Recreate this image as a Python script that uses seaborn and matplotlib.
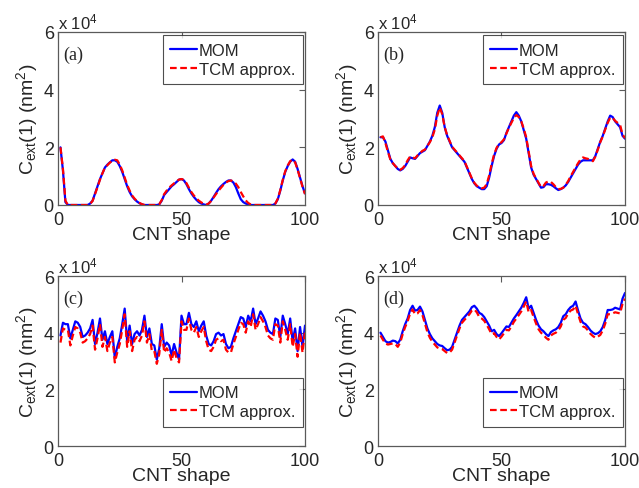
import numpy as np
import pandas as pd
import matplotlib
matplotlib.use("Agg")
import matplotlib.pyplot as plt
import seaborn as sns

# Extinction cross-section C_ext(1) per CNT shape, in units of 1e4 nm^2
mom_a = [2.0, 1.2, 0.1, 0.0, 0, 0, 0, 0, 0, 0,
         0, 0, 0.05, 0.15, 0.4, 0.65, 0.9, 1.1, 1.3, 1.4,
         1.48, 1.55, 1.55, 1.5, 1.35, 1.15, 0.9, 0.65, 0.45, 0.3,
         0.2, 0.12, 0.06, 0.02, 0, 0, 0, 0, 0, 0,
         0.02, 0.15, 0.35, 0.45, 0.55, 0.65, 0.72, 0.8, 0.88, 0.9,
         0.85, 0.72, 0.55, 0.4, 0.28, 0.18, 0.1, 0.05, 0.02, 0.0,
         0.05, 0.15, 0.28, 0.42, 0.55, 0.65, 0.73, 0.8, 0.85, 0.85,
         0.78, 0.62, 0.4, 0.2, 0.1, 0.05, 0.02, 0, 0, 0,
         0, 0, 0, 0, 0, 0, 0, 0.05, 0.2, 0.5,
         0.85, 1.15, 1.35, 1.5, 1.58, 1.5, 1.25, 0.95, 0.65, 0.4]
tcm_a = [2.0, 1.25, 0.15, 0.0, 0, 0, 0, 0, 0, 0,
         0, 0, 0.04, 0.14, 0.38, 0.62, 0.88, 1.1, 1.3, 1.38,
         1.47, 1.53, 1.57, 1.55, 1.4, 1.2, 0.95, 0.7, 0.5, 0.33,
         0.22, 0.13, 0.07, 0.03, 0, 0, 0, 0, 0, 0,
         0.03, 0.17, 0.38, 0.5, 0.6, 0.68, 0.75, 0.82, 0.88, 0.9,
         0.87, 0.76, 0.6, 0.45, 0.33, 0.23, 0.15, 0.09, 0.04, 0.01,
         0.05, 0.14, 0.26, 0.38, 0.5, 0.6, 0.7, 0.78, 0.83, 0.85,
         0.82, 0.74, 0.62, 0.45, 0.3, 0.16, 0.07, 0.02, 0, 0,
         0, 0, 0, 0, 0, 0, 0, 0.05, 0.22, 0.52,
         0.87, 1.17, 1.37, 1.52, 1.57, 1.48, 1.23, 0.93, 0.63, 0.38]

mom_b = [2.35, 2.35, 2.2, 1.9, 1.6, 1.45, 1.35, 1.25, 1.2, 1.25,
         1.35, 1.5, 1.65, 1.62, 1.6, 1.7, 1.8, 1.85, 1.9, 2.05,
         2.2, 2.4, 2.7, 3.2, 3.45, 3.2, 2.7, 2.4, 2.2, 2.0,
         1.9, 1.8, 1.7, 1.6, 1.5, 1.3, 1.1, 0.9, 0.75, 0.65,
         0.6, 0.55, 0.55, 0.65, 0.95, 1.35, 1.7, 1.95, 2.1, 2.15,
         2.25, 2.5, 2.7, 2.9, 3.1, 3.22, 3.1, 2.9, 2.6, 2.3,
         1.8, 1.3, 1.05, 0.9, 0.75, 0.6, 0.62, 0.72, 0.72, 0.7,
         0.65, 0.58, 0.52, 0.55, 0.6, 0.68, 0.8, 0.95, 1.1, 1.25,
         1.4, 1.5, 1.55, 1.55, 1.55, 1.55, 1.55, 1.7, 1.95, 2.2,
         2.4, 2.65, 2.9, 3.1, 3.05, 2.9, 2.8, 2.7, 2.4, 2.3]
tcm_b = [2.35, 2.38, 2.15, 1.85, 1.58, 1.45, 1.35, 1.27, 1.22, 1.28,
         1.38, 1.55, 1.68, 1.65, 1.62, 1.72, 1.8, 1.88, 1.92, 2.05,
         2.18, 2.35, 2.62, 3.1, 3.38, 3.15, 2.7, 2.42, 2.22, 2.02,
         1.92, 1.82, 1.72, 1.62, 1.52, 1.32, 1.12, 0.92, 0.77, 0.67,
         0.62, 0.58, 0.6, 0.72, 1.02, 1.42, 1.75, 1.98, 2.12, 2.18,
         2.28, 2.48, 2.68, 2.85, 3.02, 3.12, 3.05, 2.9, 2.65, 2.35,
         1.85, 1.35, 1.08, 0.92, 0.77, 0.62, 0.66, 0.78, 0.82, 0.8,
         0.72, 0.62, 0.55, 0.56, 0.6, 0.7, 0.83, 1.0, 1.15, 1.3,
         1.45, 1.58, 1.65, 1.62, 1.6, 1.55, 1.52, 1.68, 1.92, 2.18,
         2.38, 2.62, 2.85, 3.03, 3.02, 2.92, 2.85, 2.78, 2.45, 2.32]

mom_c = [3.9, 4.35, 4.3, 4.3, 3.8, 4.1, 4.4, 4.35, 4.2, 3.85,
         3.9, 4.0, 4.15, 4.45, 3.6, 4.0, 4.5, 3.75, 4.05, 3.6,
         3.85, 4.05, 3.1, 3.5, 3.8, 4.3, 4.85, 3.7, 4.25, 3.6,
         3.95, 4.05, 3.9, 4.1, 4.6, 3.85, 4.15, 3.6, 3.55, 3.05,
         3.45, 4.3, 3.5, 3.65, 3.55, 3.2, 3.6, 3.3, 3.05, 4.6,
         4.3, 4.3, 4.7, 4.3, 4.2, 4.4, 4.05, 4.25, 4.4, 3.9,
         3.6, 3.55, 3.7, 3.95, 4.0, 3.9, 3.95, 3.6, 3.45, 3.5,
         3.8, 4.05, 4.3, 4.55, 4.5, 4.2, 4.6, 4.4, 4.85, 4.3,
         4.5, 4.75, 4.6, 4.4, 4.1, 4.0, 3.95, 4.5, 4.45, 3.85,
         4.6, 4.3, 3.95, 4.5, 3.7, 4.15, 3.35, 4.2, 3.5, 4.25]
tcm_c = [3.65, 4.15, 4.1, 4.1, 3.55, 3.9, 4.2, 4.15, 4.0, 3.65,
         3.7, 3.8, 3.95, 4.25, 3.4, 3.8, 4.3, 3.5, 3.85, 3.35,
         3.65, 3.85, 2.95, 3.3, 3.6, 4.1, 4.65, 3.5, 4.05, 3.35,
         3.75, 3.85, 3.7, 3.9, 4.4, 3.65, 3.95, 3.35, 3.35, 2.9,
         3.25, 4.1, 3.3, 3.45, 3.3, 3.0, 3.4, 3.1, 2.95, 4.4,
         4.1, 4.1, 4.5, 4.1, 4.0, 4.2, 3.85, 4.05, 4.2, 3.7,
         3.4, 3.35, 3.5, 3.75, 3.8, 3.7, 3.75, 3.4, 3.3, 3.3,
         3.6, 3.85, 4.1, 4.35, 4.3, 4.0, 4.4, 4.2, 4.65, 4.1,
         4.3, 4.55, 4.4, 4.2, 3.9, 3.8, 3.75, 4.3, 4.25, 3.65,
         4.4, 4.1, 3.75, 4.3, 3.5, 3.95, 3.15, 4.0, 3.3, 4.05]

mom_d = [4.0, 3.85, 3.7, 3.65, 3.67, 3.72, 3.7, 3.62, 3.75, 4.05,
         4.3, 4.5, 4.8, 4.95, 4.78, 4.8, 4.92, 4.75, 4.45, 4.15,
         3.95, 3.8, 3.7, 3.6, 3.55, 3.53, 3.45, 3.38, 3.4, 3.5,
         3.75, 4.0, 4.25, 4.45, 4.55, 4.65, 4.75, 4.9, 4.95, 4.85,
         4.7, 4.65, 4.55, 4.4, 4.25, 4.05, 4.1, 3.95, 3.88, 3.98,
         4.1, 4.22, 4.2, 4.35, 4.5, 4.62, 4.75, 4.88, 5.05, 5.25,
         4.85, 4.95, 4.7, 4.45, 4.25, 4.12, 4.05, 3.95, 3.88, 4.02,
         4.08, 4.12, 4.2, 4.35, 4.58, 4.65, 4.8, 4.9, 4.95, 5.1,
         4.78, 4.5, 4.35, 4.3, 4.2, 4.08, 4.0, 3.95, 3.98, 4.05,
         4.2, 4.45, 4.8, 4.8, 4.82, 4.88, 4.85, 4.82, 5.2, 5.4]
tcm_d = [3.9, 3.75, 3.62, 3.58, 3.6, 3.62, 3.6, 3.5, 3.65, 3.95,
         4.2, 4.4, 4.68, 4.82, 4.65, 4.68, 4.8, 4.62, 4.32, 4.02,
         3.82, 3.68, 3.58, 3.48, 3.44, 3.42, 3.35, 3.28, 3.3, 3.4,
         3.65, 3.9, 4.15, 4.35, 4.45, 4.55, 4.65, 4.78, 4.82, 4.72,
         4.55, 4.5, 4.42, 4.28, 4.12, 3.95, 3.98, 3.85, 3.76, 3.86,
         3.98, 4.1, 4.08, 4.22, 4.38, 4.5, 4.62, 4.75, 4.92, 5.1,
         4.72, 4.8, 4.55, 4.32, 4.12, 4.0, 3.92, 3.82, 3.75, 3.9,
         3.96, 4.0, 4.08, 4.22, 4.45, 4.52, 4.68, 4.78, 4.82, 4.95,
         4.65, 4.38, 4.22, 4.18, 4.08, 3.96, 3.88, 3.82, 3.86, 3.92,
         4.08, 4.32, 4.65, 4.65, 4.68, 4.72, 4.7, 4.68, 5.02, 5.2]

panels = [
    ("(a)", mom_a, tcm_a, "upper"),
    ("(b)", mom_b, tcm_b, "upper"),
    ("(c)", mom_c, tcm_c, "lower"),
    ("(d)", mom_d, tcm_d, "lower"),
]

xticks = [0, 50, 100]
yticks = [0, 2, 4, 6]

sns.set_style("white")
plt.rcParams["font.family"] = ["Liberation Sans", "DejaVu Sans"]
plt.rcParams["mathtext.fontset"] = "custom"
plt.rcParams["mathtext.rm"] = "Liberation Sans"
plt.rcParams["mathtext.it"] = "Liberation Sans:italic"

W, H = 639, 489
fig = plt.figure(figsize=(W / 100, H / 100), dpi=100)
fig.patch.set_facecolor("white")

# axes boxes in pixels: left, top, width, height
boxes = [(58, 33, 247, 173), (378, 33, 247, 173),
         (58, 277, 247, 170), (378, 277, 247, 170)]

frame_col = "#5a5a5a"

for (label, mom, tcm, legloc), (l, t, w, h) in zip(panels, boxes):
    ax = fig.add_axes([l / W, 1 - (t + h) / H, w / W, h / H])
    df = pd.DataFrame({
        "shape": np.arange(1, len(mom) + 1),
        "MOM": mom,
        "TCM approx.": tcm,
    })
    sns.lineplot(data=df, x="shape", y="MOM", ax=ax, color="#0000ff",
                 lw=1.6, label="MOM")
    sns.lineplot(data=df, x="shape", y="TCM approx.", ax=ax, color="#ff0000",
                 lw=1.6, linestyle=(0, (3, 1.6)), label="TCM approx.")

    ax.set_xlim(0, 100)
    ax.set_ylim(0, 6)
    ax.set_xticks(xticks)
    ax.set_yticks(yticks)
    ax.set_xticklabels([str(v) for v in xticks])
    ax.set_yticklabels([str(v) for v in yticks])
    ax.tick_params(direction="in", top=True, right=True, length=4,
                   width=0.8, color=frame_col, labelsize=13)
    ax.tick_params(axis="x", pad=4)
    ax.tick_params(axis="y", pad=3)
    for sp in ax.spines.values():
        sp.set_color(frame_col)
        sp.set_linewidth(0.9)

    ax.set_xlabel("CNT shape", fontsize=14, labelpad=-1)
    ax.set_ylabel(r"C$_{\rm ext}$(1) (nm$^2$)", fontsize=14, labelpad=3)

    ax.text(0.0, 1.005, r"x 10$^4$", transform=ax.transAxes,
            ha="left", va="bottom", fontsize=12)
    ax.text(0.022, 0.87, label, transform=ax.transAxes, ha="left",
            va="center", fontsize=13, family=["Liberation Serif", "DejaVu Serif"])

    if legloc == "upper":
        anchor = (0.99, 0.98)
    else:
        anchor = (0.99, 0.40)
    leg = ax.legend(loc="upper right", bbox_to_anchor=anchor, fontsize=12,
                    frameon=True, fancybox=False, handlelength=1.6,
                    handletextpad=0.1, borderpad=0.45, labelspacing=0.22,
                    borderaxespad=0.0)
    leg.get_frame().set_edgecolor("#222222")
    leg.get_frame().set_linewidth(0.8)

fig.savefig("out.png", dpi=100, facecolor="white")
